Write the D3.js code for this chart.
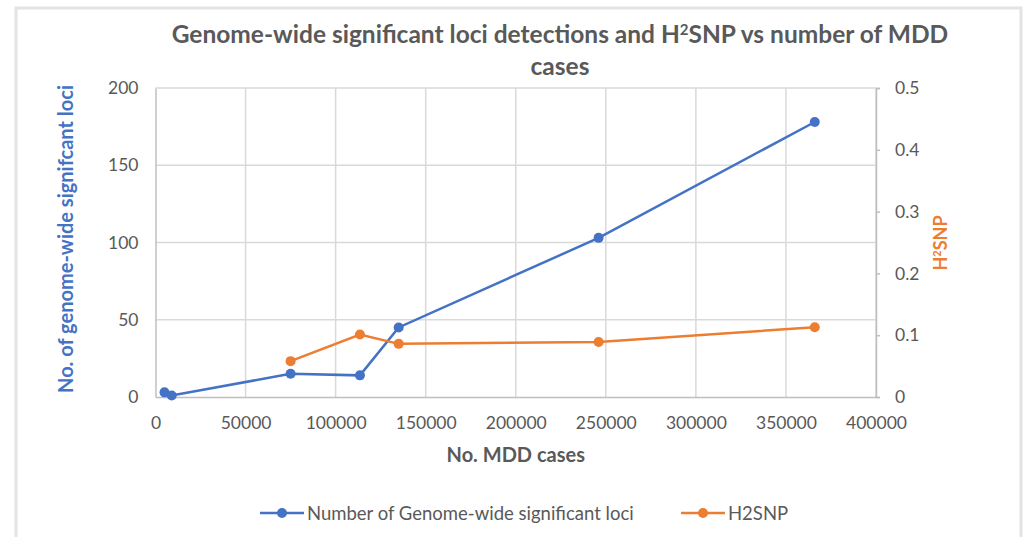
<!DOCTYPE html>
<html><head><meta charset="utf-8">
<script src="https://cdn.jsdelivr.net/npm/d3@7"></script>
<style>
html,body{margin:0;padding:0;background:#fff;}
svg{display:block;font-family:"Lato","Open Sans",sans-serif;}
</style></head>
<body>
<svg id="chart" width="1023" height="537"></svg>
<script>
// Data
const casesLoci = [5000, 9000, 75000, 113500, 135000, 246000, 366000];
const lociValues = [3, 1, 15, 14, 45, 103, 178];
const casesH2 = [75000, 113500, 135000, 246000, 366000];
const h2Values = [0.058, 0.101, 0.086, 0.089, 0.113];
const xTicks = [0, 50000, 100000, 150000, 200000, 250000, 300000, 350000, 400000];
const yLeftTicks = [0, 50, 100, 150, 200];
const yRightTicks = [0, 0.1, 0.2, 0.3, 0.4, 0.5];
const seriesNames = ["Number of Genome-wide significant loci", "H2SNP"];

const blue = "#4472C4", orange = "#ED7D31", gray = "#595959", grid = "#d9d9d9";
const svg = d3.select("#chart");

// Frame
svg.append("path").attr("d", "M16,537 V8 H1021 V537").attr("fill", "none")
  .attr("stroke", "#e3e3e3").attr("stroke-width", 3);

const x = d3.scaleLinear().domain([0, 400000]).range([155.5, 876]);
const yL = d3.scaleLinear().domain([0, 200]).range([397, 88]);
const yR = d3.scaleLinear().domain([0, 0.5]).range([397, 88]);

// Title
const title = svg.append("text").attr("text-anchor", "middle").attr("fill", gray)
  .attr("font-weight", "bold").attr("font-size", 24.5);
title.append("tspan").attr("x", 560).attr("y", 43).text("Genome-wide significant loci detections and H");
title.append("tspan").attr("dy", -8).attr("font-size", 15).text("2");
title.append("tspan").attr("dy", 8).text("SNP vs number of MDD");
svg.append("text").attr("x", 560).attr("y", 75).attr("text-anchor", "middle").attr("fill", gray)
  .attr("font-weight", "bold").attr("font-size", 24.5).text("cases");

// Gridlines
const g = svg.append("g");
g.selectAll(".vg").data(xTicks.slice(1)).join("line")
  .attr("x1", d => x(d)).attr("x2", d => x(d)).attr("y1", yL(0)).attr("y2", yL(200))
  .attr("stroke", grid).attr("stroke-width", 1.5);
g.selectAll(".hg").data(yLeftTicks.slice(1)).join("line")
  .attr("x1", x(0)).attr("x2", x(400000)).attr("y1", d => yL(d)).attr("y2", d => yL(d))
  .attr("stroke", grid).attr("stroke-width", 1.5);

// Axes
const xAxis = svg.append("g").attr("transform", `translate(0,${yL(0)})`)
  .call(d3.axisBottom(x).tickValues(xTicks).tickFormat(d3.format("d")).tickSize(0).tickPadding(20));
const yAxisL = svg.append("g").attr("transform", `translate(${x(0)},0)`)
  .call(d3.axisLeft(yL).tickValues(yLeftTicks).tickSize(0).tickPadding(17));
const yAxisR = svg.append("g").attr("transform", `translate(${x(400000)},0)`)
  .call(d3.axisRight(yR).tickValues(yRightTicks).tickFormat(d => d === 0 ? "0" : d3.format(".1f")(d)).tickSize(4).tickPadding(15));
[xAxis, yAxisL, yAxisR].forEach(a => {
  a.selectAll("text").attr("fill", gray).attr("font-size", 17.5).attr("font-family", "Lato, sans-serif");
  a.select(".domain").attr("stroke", "#bfbfbf").attr("stroke-width", 1.5);
  a.selectAll(".tick line").attr("stroke", "#bfbfbf").attr("stroke-width", 1.5);
});
yAxisR.selectAll(".tick line").attr("x1", 0).attr("x2", 4);

// Axis titles
svg.append("text").attr("x", x(200000)).attr("y", 462).attr("text-anchor", "middle")
  .attr("fill", gray).attr("font-weight", "bold").attr("font-size", 20).text("No. MDD cases");
svg.append("text").attr("transform", "translate(73,239) rotate(-90)").attr("text-anchor", "middle")
  .attr("fill", blue).attr("font-weight", "bold").attr("font-size", 20).text("No. of genome-wide signifcant loci");
const rt = svg.append("text").attr("transform", "translate(947,243) rotate(-90)").attr("text-anchor", "middle")
  .attr("fill", orange).attr("font-weight", "bold").attr("font-size", 18);
rt.append("tspan").text("H");
rt.append("tspan").attr("dy", -6).attr("font-size", 11).text("2");
rt.append("tspan").attr("dy", 6).text("SNP");

// Lines
const lociData = casesLoci.map((c, i) => [c, lociValues[i]]);
const h2Data = casesH2.map((c, i) => [c, h2Values[i]]);
svg.append("path").datum(lociData).attr("fill", "none").attr("stroke", blue).attr("stroke-width", 2.5)
  .attr("d", d3.line().x(d => x(d[0])).y(d => yL(d[1])));
svg.append("path").datum(h2Data).attr("fill", "none").attr("stroke", orange).attr("stroke-width", 2.5)
  .attr("d", d3.line().x(d => x(d[0])).y(d => yR(d[1])));
svg.selectAll(".pb").data(lociData).join("circle").attr("cx", d => x(d[0])).attr("cy", d => yL(d[1]))
  .attr("r", 5).attr("fill", blue);
svg.selectAll(".po").data(h2Data).join("circle").attr("cx", d => x(d[0])).attr("cy", d => yR(d[1]))
  .attr("r", 5).attr("fill", orange);

// Legend
const legend = [{name: seriesNames[0], color: blue, x0: 260}, {name: seriesNames[1], color: orange, x0: 681}];
legend.forEach(l => {
  const lg = svg.append("g");
  lg.append("line").attr("x1", l.x0).attr("x2", l.x0 + 44).attr("y1", 513).attr("y2", 513)
    .attr("stroke", l.color).attr("stroke-width", 2.5);
  lg.append("circle").attr("cx", l.x0 + 22).attr("cy", 513).attr("r", 5).attr("fill", l.color);
  lg.append("text").attr("x", l.x0 + 47).attr("y", 519.5).attr("fill", gray).attr("font-size", 18.5).text(l.name);
});
</script>
</body></html>
